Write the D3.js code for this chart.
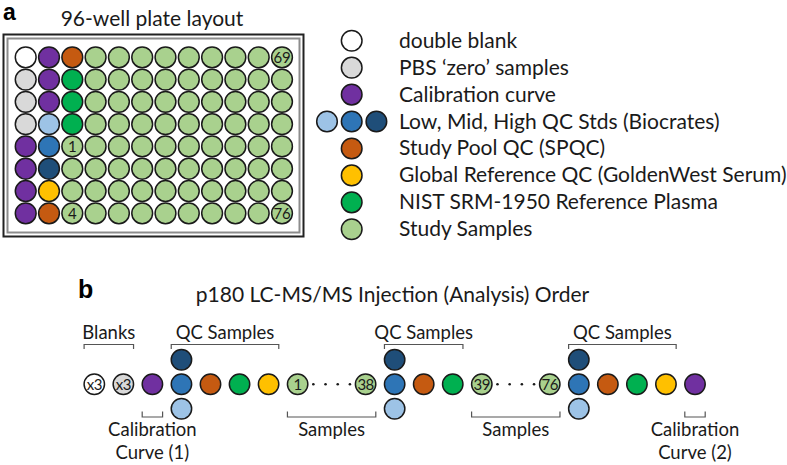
<!DOCTYPE html>
<html><head><meta charset="utf-8">
<script src="https://cdn.jsdelivr.net/npm/d3@7"></script>
<style>
html,body{margin:0;padding:0;background:#fff;}
svg{display:block;}
text{font-family:Lato,"Open Sans",sans-serif;fill:#1a1a1a;}
</style></head>
<body>
<svg id="c" width="787" height="465"></svg>
<script>
// ---------- data ----------
const typeNames = ["blank","pbs","cal","low","mid","high","spqc","global","nist","sample"];
const typeColors = ["#ffffff","#d9d9d9","#7030a0","#9dc3e6","#2e75b6","#1f4e79","#c55a11","#ffc000","#00b050","#a9d18e"];

const plateTitle = "96-well plate layout";
const plateRows = 8, plateColsN = 12;
const plateCol1 = ["blank","pbs","pbs","pbs","cal","cal","cal","cal"];
const plateCol2 = ["cal","cal","cal","low","mid","high","global","spqc"];
const plateCol3 = ["spqc","nist","nist","nist","sample","sample","sample","sample"];
const plateLabelText = ["1","4","69","76"];
const plateLabelRow = [4,7,0,7];
const plateLabelCol = [2,2,11,11];

const legendLabels = ["double blank","PBS \u2018zero\u2019 samples","Calibration curve","Low, Mid, High QC Stds (Biocrates)","Study Pool QC (SPQC)","Global Reference QC (GoldenWest Serum)","NIST SRM-1950 Reference Plasma","Study Samples"];
const legendTypes = [["blank"],["pbs"],["cal"],["low","mid","high"],["spqc"],["global"],["nist"],["sample"]];

const seqTitle = "p180 LC-MS/MS Injection (Analysis) Order";
const seqTypes  = ["blank","pbs","cal","qc","spqc","nist","global","sample","sample","qc","spqc","nist","sample","sample","qc","spqc","nist","global","cal"];
const seqLabels = ["x3","x3","","","","","","1","38","","","","39","76","","","","",""];
const seqDotsAfter = [7,12];      // "· · · ·" between these and next
const qcStack = ["high","mid","low"];

const topBrackets = [["Blanks",0,1],["QC Samples",3,6],["QC Samples",9,11],["QC Samples",14,17]];
const bottomBrackets = [[["Calibration","Curve (1)"],2,2],[["Samples"],7,8],[["Samples"],12,13],[["Calibration","Curve (2)"],18,18]];

// ---------- drawing ----------
const svg = d3.select("#c");
const color = d3.scaleOrdinal().domain(typeNames).range(typeColors);
const STROKE = "#1a1a1a";

// panel labels
svg.append("text").attr("x",3).attr("y",20).text("a")
  .style("font-family","'Liberation Sans',Arial,sans-serif").style("font-weight","bold").style("font-size","23px").style("fill","#000");
svg.append("text").attr("x",78).attr("y",298).text("b")
  .style("font-family","'Liberation Sans',Arial,sans-serif").style("font-weight","bold").style("font-size","25px").style("fill","#000");

// plate
svg.append("text").attr("x",152).attr("y",26).attr("text-anchor","middle").style("font-size","21px").text(plateTitle);
svg.append("rect").attr("x",3.5).attr("y",34.5).attr("width",300).attr("height",202).attr("fill","none").attr("stroke","#222").attr("stroke-width",2);
svg.append("rect").attr("x",7.5).attr("y",38.5).attr("width",292).attr("height",194).attr("fill","none").attr("stroke","#8c8c8c").attr("stroke-width",2);

const xP = d3.scaleLinear().domain([0,plateColsN-1]).range([25.7,282]);
const yP = d3.scaleLinear().domain([0,plateRows-1]).range([57.3,213.3]);
const wells = [];
for (let c=0;c<plateColsN;c++) for (let r=0;r<plateRows;r++){
  const t = c===0?plateCol1[r]:c===1?plateCol2[r]:c===2?plateCol3[r]:"sample";
  wells.push({r,c,t});
}
svg.append("g").selectAll("circle").data(wells).join("circle")
  .attr("cx",d=>xP(d.c)).attr("cy",d=>yP(d.r)).attr("r",10.4)
  .attr("fill",d=>color(d.t)).attr("stroke",STROKE).attr("stroke-width",1.5);
svg.append("g").selectAll("text").data(plateLabelText).join("text")
  .attr("x",(d,i)=>xP(plateLabelCol[i])).attr("y",(d,i)=>yP(plateLabelRow[i])+5.5)
  .attr("text-anchor","middle").style("font-size","15px").style("letter-spacing","-0.3px").text(d=>d);

// legend
const yL = d3.scaleLinear().domain([0,legendLabels.length-1]).range([40.7,229.3]);
const lg = svg.append("g").selectAll("g").data(legendLabels).join("g")
  .attr("transform",(d,i)=>`translate(0,${yL(i)})`);
lg.append("text").attr("x",399).attr("y",7).style("font-size","21px").text(d=>d);
lg.each(function(d,i){
  const ts = legendTypes[i];
  const off = (ts.length-1)/2;
  d3.select(this).selectAll("circle").data(ts).join("circle")
    .attr("cx",(t,j)=>351.7+(j-off)*24.7).attr("cy",0).attr("r",10.3)
    .attr("fill",t=>color(t)).attr("stroke",STROKE).attr("stroke-width",1.5);
});

// sequence
svg.append("text").attr("x",392.5).attr("y",302).attr("text-anchor","middle").style("font-size","21px").text(seqTitle);
const units = []; let u=0;
seqTypes.forEach((t,i)=>{ units.push(u); u += seqDotsAfter.includes(i) ? 2.34 : 1; });
const xS = d3.scaleLinear().domain([0,units[units.length-1]]).range([94.3,695]);
const yMid = 384.3, dy = 24.5, R = 10.2;
const seq = seqTypes.map((t,i)=>({t,i,x:xS(units[i]),label:seqLabels[i]}));
const sg = svg.append("g");
seq.forEach(d=>{
  const items = d.t==="qc" ? qcStack.map((s,k)=>({t:s,y:yMid+(k-1)*dy})) : [{t:d.t,y:yMid}];
  items.forEach(it=>{
    sg.append("circle").attr("cx",d.x).attr("cy",it.y).attr("r",R)
      .attr("fill",color(it.t)).attr("stroke",STROKE).attr("stroke-width",1.5);
  });
  if (d.label) sg.append("text").attr("x",d.x).attr("y",yMid+5.5).attr("text-anchor","middle")
      .style("font-size", "15px").style("letter-spacing","-0.5px").text(d.label);
});
seqDotsAfter.forEach(i=>{
  const a = xS(units[i]), b = xS(units[i+1]);
  const s = a+R+5.5, e = b-R-5.5;
  d3.range(4).forEach(k=>{
    sg.append("circle").attr("cx",s+(e-s)*k/3).attr("cy",yMid).attr("r",1.3).attr("fill","#1a1a1a");
  });
});
// brackets
const BR = "#555";
topBrackets.forEach(([lab,a,b])=>{
  const x0 = xS(units[a])-R, x1 = xS(units[b])+R;
  sg.append("path").attr("d",`M${x0},349V344.5H${x1}V349`).attr("fill","none").attr("stroke",BR).attr("stroke-width",1.2);
  sg.append("text").attr("x",(x0+x1)/2).attr("y",339).attr("text-anchor","middle").style("font-size","18.5px").text(lab);
});
bottomBrackets.forEach(([labs,a,b])=>{
  const x0 = xS(units[a])-R, x1 = xS(units[b])+R;
  sg.append("path").attr("d",`M${x0},411.5V417H${x1}V411.5`).attr("fill","none").attr("stroke",BR).attr("stroke-width",1.2);
  labs.forEach((l,k)=>{
    sg.append("text").attr("x",(x0+x1)/2).attr("y",436+k*22.5).attr("text-anchor","middle").style("font-size","18.5px").text(l);
  });
});
</script>
</body></html>
